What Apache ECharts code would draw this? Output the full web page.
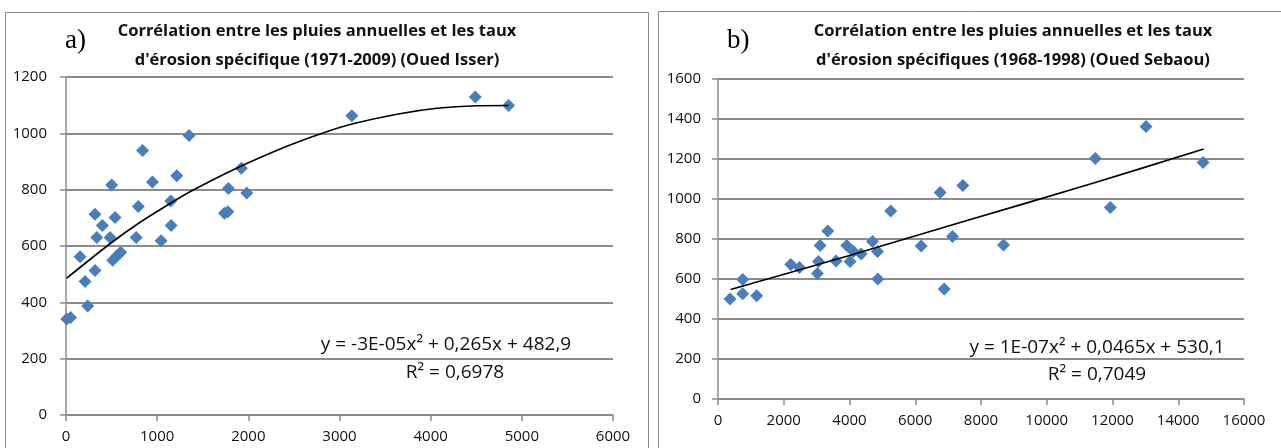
<!DOCTYPE html>
<html>
<head>
<meta charset="utf-8">
<script src="https://cdn.jsdelivr.net/npm/echarts@6/dist/echarts.min.js"></script>
<style>
html,body{margin:0;padding:0;background:#fff;}
#c{width:1281px;height:448px;}
</style>
</head>
<body>
<div id="c"></div>
<script>
// ---- Chart a) Oued Isser ----
const isserX = [8, 50, 154, 209, 238, 318, 318, 337, 399, 483, 501, 512, 538, 563, 600, 770, 793, 840, 948, 1043, 1149, 1153, 1215, 1350, 1738, 1775, 1782, 1924, 1983, 3136, 4490, 4855];
const isserY = [341, 346, 562, 474, 387, 513, 713, 630, 673, 630, 817, 549, 701, 566, 578, 630, 740, 939, 827, 619, 760, 673, 849, 992, 716, 722, 804, 876, 788, 1062, 1129, 1099];
const isserTrendX = [8, 483, 793, 1142, 1380, 1836, 2422, 2788, 3136, 3630, 4069, 4508, 4855];
const isserTrendY = [486, 608, 680, 751, 796, 871, 954, 998, 1033, 1068, 1089, 1098, 1099];
const isserXTicks = [0, 1000, 2000, 3000, 4000, 5000, 6000];
const isserYTicks = [0, 200, 400, 600, 800, 1000, 1200];

// ---- Chart b) Oued Sebaou ----
const sebaouX = [365, 751, 751, 1177, 2213, 2476, 3024, 3055, 3105, 3339, 3592, 3917, 4018, 4120, 4354, 4700, 4852, 4862, 5255, 6180, 6758, 6880, 7133, 7448, 8685, 11477, 11933, 13020, 14755];
const sebaouY = [500, 598, 526, 516, 673, 657, 628, 687, 767, 840, 690, 767, 687, 737, 725, 787, 737, 600, 940, 765, 1032, 550, 812, 1067, 770, 1203, 957, 1362, 1182];
const sebaouTrendX = [386, 4000, 7367, 11426, 14775];
const sebaouTrendY = [548, 718, 882, 1080, 1250];
const sebaouXTicks = [0, 2000, 4000, 6000, 8000, 10000, 12000, 14000, 16000];
const sebaouYTicks = [0, 200, 400, 600, 800, 1000, 1200, 1400, 1600];

const titleA = "Corrélation entre les pluies annuelles et les taux\nd'érosion spécifique (1971-2009) (Oued Isser)";
const titleB = "Corrélation entre les pluies annuelles et les taux\nd'érosion spécifiques (1968-1998) (Oued Sebaou)";
const eqA = ["y = -3E-05x² + 0,265x + 482,9", "R² = 0,6978"];
const eqB = ["y = 1E-07x² + 0,0465x + 530,1", "R² = 0,7049"];

const zip = (xs, ys) => xs.map((x, i) => [x, ys[i]]);
const FONT = "'Open Sans', 'Noto Sans', sans-serif";
const GRID_C = '#8c8c8c';
const TXT = '#111';
const plain = v => String(v);

function xAxis(gridIndex, ticks) {
  return {
    type: 'value', gridIndex,
    min: ticks[0], max: ticks[ticks.length - 1], interval: ticks[1] - ticks[0],
    axisLine: { show: true, onZero: false, lineStyle: { color: GRID_C, width: 1.5 } },
    axisTick: { show: true, inside: false, length: 6, lineStyle: { color: GRID_C, width: 1.5 } },
    axisLabel: { color: TXT, fontFamily: FONT, fontSize: 15, margin: 14, formatter: plain },
    splitLine: { show: false }
  };
}
function yAxis(gridIndex, ticks, margin) {
  return {
    type: 'value', gridIndex,
    min: ticks[0], max: ticks[ticks.length - 1], interval: ticks[1] - ticks[0],
    axisLine: { show: true, onZero: false, lineStyle: { color: GRID_C, width: 1.5 } },
    axisTick: { show: true, inside: false, length: 6, lineStyle: { color: GRID_C, width: 1.5 } },
    axisLabel: { color: TXT, fontFamily: FONT, fontSize: 15, margin, formatter: plain },
    splitLine: { show: true, lineStyle: { color: GRID_C, width: 2 } }
  };
}

const chart = echarts.init(document.getElementById('c'), null, { renderer: 'canvas' });
chart.setOption({
  backgroundColor: '#fff',
  animation: false,
  title: [
    { text: titleA, left: 312, top: 12, textAlign: 'center',
      textStyle: { fontFamily: FONT, fontSize: 16.5, fontWeight: 'bold', color: TXT, lineHeight: 29 } },
    { text: titleB, left: 1008, top: 12, textAlign: 'center',
      textStyle: { fontFamily: FONT, fontSize: 16.5, fontWeight: 'bold', color: TXT, lineHeight: 29 } }
  ],
  grid: [
    { left: 66, top: 77, width: 547, height: 338 },
    { left: 718, top: 79, width: 526, height: 320 }
  ],
  xAxis: [xAxis(0, isserXTicks), xAxis(1, sebaouXTicks)],
  yAxis: [yAxis(0, isserYTicks, 19), yAxis(1, sebaouYTicks, 17)],
  series: [
    { type: 'line', xAxisIndex: 0, yAxisIndex: 0, data: zip(isserTrendX, isserTrendY),
      smooth: 0.3, showSymbol: false, lineStyle: { color: '#000', width: 1.6 }, z: 3 },
    { type: 'scatter', xAxisIndex: 0, yAxisIndex: 0, data: zip(isserX, isserY),
      symbol: 'diamond', symbolSize: 13, itemStyle: { color: '#4a7ebb', opacity: 1 }, z: 2 },
    { type: 'line', xAxisIndex: 1, yAxisIndex: 1, data: zip(sebaouTrendX, sebaouTrendY),
      smooth: 0.3, showSymbol: false, lineStyle: { color: '#000', width: 1.6 }, z: 3 },
    { type: 'scatter', xAxisIndex: 1, yAxisIndex: 1, data: zip(sebaouX, sebaouY),
      symbol: 'diamond', symbolSize: 13, itemStyle: { color: '#4a7ebb', opacity: 1 }, z: 2 }
  ],
  graphic: [
    { type: 'rect', shape: { x: 5.5, y: 12.5, width: 643, height: 450 }, style: { fill: null, stroke: '#8a8a8a', lineWidth: 1 }, silent: true },
    { type: 'rect', shape: { x: 658.5, y: 11.5, width: 640, height: 450 }, style: { fill: null, stroke: '#8a8a8a', lineWidth: 1 }, silent: true },
    { type: 'text', left: 65, top: 27, style: { text: 'a)', font: "27px 'Liberation Serif', serif", fill: '#000' } },
    { type: 'text', left: 727, top: 27, style: { text: 'b)', font: "27px 'Liberation Serif', serif", fill: '#000' } },
    { type: 'text', x: 446, y: 345, style: { text: eqA[0], font: "19px " + FONT, fill: TXT, textAlign: 'center', textVerticalAlign: 'middle' } },
    { type: 'text', x: 455, y: 373, style: { text: eqA[1], font: "19px " + FONT, fill: TXT, textAlign: 'center', textVerticalAlign: 'middle' } },
    { type: 'text', x: 1097, y: 348, style: { text: eqB[0], font: "19px " + FONT, fill: TXT, textAlign: 'center', textVerticalAlign: 'middle' } },
    { type: 'text', x: 1097, y: 375, style: { text: eqB[1], font: "19px " + FONT, fill: TXT, textAlign: 'center', textVerticalAlign: 'middle' } }
  ]
});
</script>
</body>
</html>
